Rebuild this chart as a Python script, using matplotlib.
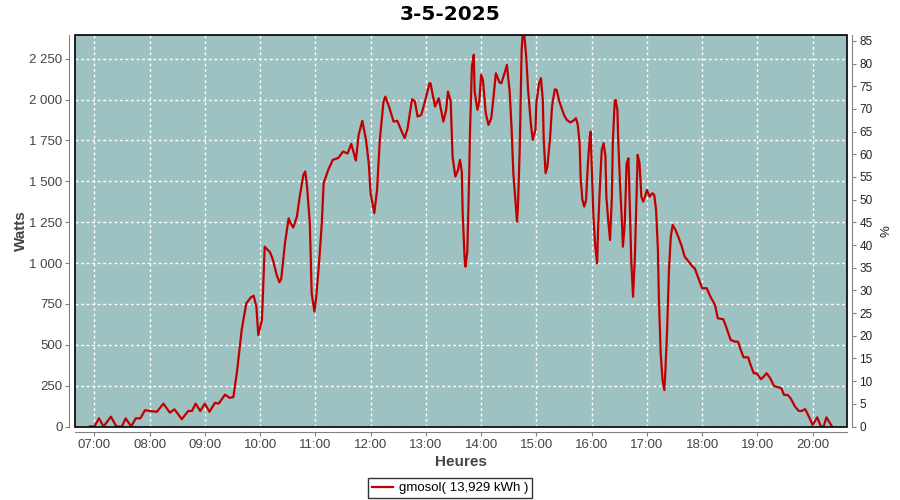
import matplotlib
matplotlib.use("Agg")
import matplotlib.pyplot as plt
import matplotlib.dates as mdates
from matplotlib.patches import Rectangle
from matplotlib.ticker import FuncFormatter, MultipleLocator
import pandas as pd

plt.rcParams["font.family"] = ["Liberation Sans", "DejaVu Sans"]

# data (time of day, watts)
day = "2025-05-03"
heures = ["06:55", "07:00", "07:05", "07:10", "07:18", "07:24", "07:30", "07:34", "07:40", "07:45",
          "07:50", "07:55", "08:00", "08:08", "08:15", "08:22", "08:27", "08:35", "08:42", "08:46",
          "08:50", "08:55", "09:00", "09:05", "09:11", "09:15", "09:22", "09:27", "09:31", "09:35",
          "09:40", "09:45", "09:50", "09:53", "09:56", "09:58", "10:02", "10:05", "10:11", "10:14",
          "10:18", "10:21", "10:23", "10:27", "10:31", "10:33", "10:36", "10:40", "10:43", "10:47",
          "10:49", "10:51", "10:54", "10:56", "10:59", "11:01", "11:04", "11:07", "11:09", "11:14",
          "11:19", "11:25", "11:30", "11:35", "11:39", "11:44", "11:47", "11:51", "11:55", "11:58",
          "12:00", "12:04", "12:07", "12:10", "12:14", "12:16", "12:20", "12:25", "12:29", "12:33",
          "12:37", "12:40", "12:45", "12:48", "12:51", "12:55", "12:59", "13:04", "13:05", "13:10",
          "13:14", "13:19", "13:22", "13:24", "13:27", "13:29", "13:32", "13:35", "13:37", "13:39",
          "13:40", "13:42", "13:43", "13:45", "13:47", "13:48", "13:50", "13:52", "13:53", "13:56",
          "13:58", "14:00", "14:02", "14:05", "14:08", "14:11", "14:13", "14:16", "14:20", "14:22",
          "14:26", "14:28", "14:31", "14:33", "14:35", "14:37", "14:39", "14:40", "14:42", "14:44",
          "14:45", "14:47", "14:49", "14:51", "14:54", "14:56", "14:59", "15:00", "15:03", "15:05",
          "15:07", "15:08", "15:10", "15:12", "15:15", "15:17", "15:20", "15:22", "15:25", "15:30",
          "15:33", "15:37", "15:40", "15:43", "15:45", "15:47", "15:48", "15:50", "15:52", "15:54",
          "15:56", "15:58", "15:59", "16:00", "16:02", "16:04", "16:06", "16:07", "16:09", "16:11",
          "16:13", "16:15", "16:16", "16:18", "16:20", "16:22", "16:23", "16:25", "16:26", "16:28",
          "16:29", "16:31", "16:33", "16:34", "16:36", "16:38", "16:40", "16:42", "16:43", "16:45",
          "16:47", "16:49", "16:50", "16:52", "16:54", "16:56", "16:58", "17:00", "17:03", "17:06",
          "17:08", "17:10", "17:12", "17:13", "17:15", "17:17", "17:19", "17:20", "17:22", "17:24",
          "17:26", "17:28", "17:31", "17:34", "17:38", "17:41", "17:45", "17:49", "17:52", "17:56",
          "18:00", "18:05", "18:09", "18:14", "18:17", "18:23", "18:26", "18:31", "18:36", "18:39",
          "18:42", "18:45", "18:50", "18:52", "18:56", "18:59", "19:04", "19:07", "19:10", "19:14",
          "19:18", "19:23", "19:26", "19:29", "19:33", "19:36", "19:41", "19:45", "19:48", "19:52",
          "19:56", "20:00", "20:05", "20:09", "20:12", "20:15", "20:21"]
watts = [0, 0, 50, 0, 60, 0, 0, 50, 0, 50,
         50, 100, 95, 90, 140, 85, 105, 45, 95, 95,
         140, 95, 140, 90, 145, 140, 195, 175, 180, 340,
         590, 754, 790, 800, 733, 560, 652, 1100, 1064, 1019,
         927, 882, 905, 1121, 1274, 1244, 1217, 1284, 1406, 1539,
         1560, 1468, 1244, 815, 703, 794, 999, 1244, 1488, 1570,
         1631, 1643, 1682, 1670, 1729, 1627, 1784, 1870, 1753, 1611,
         1427, 1305, 1447, 1753, 1988, 2018, 1957, 1865, 1870, 1815,
         1764, 1820, 2002, 1990, 1896, 1906, 1988, 2100, 2100, 1957,
         2008, 1865, 1935, 2049, 1988, 1651, 1529, 1570, 1631, 1560,
         1305, 1039, 978, 1070, 1529, 1815, 2202, 2274, 2049, 1937,
         1988, 2151, 2120, 1917, 1845, 1886, 1988, 2161, 2104, 2100,
         2171, 2212, 2049, 1835, 1550, 1400, 1253, 1345, 1712, 2304,
         2386, 2386, 2263, 2059, 1855, 1753, 1815, 1978, 2100, 2131,
         1998, 1753, 1550, 1590, 1774, 1957, 2063, 2059, 1988, 1906,
         1876, 1860, 1870, 1886, 1845, 1733, 1529, 1386, 1345, 1386,
         1611, 1774, 1804, 1611, 1284, 1100, 999, 1203, 1468, 1692,
         1733, 1652, 1406, 1264, 1141, 1406, 1733, 1978, 1998, 1937,
         1733, 1468, 1244, 1100, 1244, 1611, 1641, 1244, 1019, 794,
         1040, 1447, 1662, 1611, 1406, 1376, 1406, 1447, 1406, 1427,
         1417, 1325, 1080, 794, 448, 285, 223, 326, 590, 958,
         1162, 1233, 1203, 1162, 1100, 1039, 1012, 982, 967, 907,
         846, 846, 794, 744, 662, 656, 611, 529, 519, 519,
         468, 423, 423, 387, 326, 326, 289, 306, 326, 295,
         248, 239, 234, 193, 193, 173, 121, 95, 95, 106,
         60, 10, 56, 0, 0, 56, 0]

x_debut, x_fin = "06:39", "20:37"
watts_max, pct_max = 2395, 86.3
titre = "3-5-2025"
legende = "gmosol( 13,929 kWh )"

fond = "#9ec2c1"
rouge = "#c00000"
gris = "#808080"

t = pd.to_datetime([day + " " + h for h in heures])

fig = plt.figure(figsize=(9, 5), dpi=100)
ax = fig.add_axes([75 / 900, 73.5 / 500, 771.7 / 900, 391.5 / 500])
ax.set_facecolor(fond)
line, = ax.plot(t, watts, color=rouge, lw=1.6, zorder=3)

ax.set_xlim(pd.Timestamp(day + " " + x_debut), pd.Timestamp(day + " " + x_fin))
ax.set_ylim(0, watts_max)
ax.xaxis.set_major_locator(mdates.HourLocator())
ax.xaxis.set_major_formatter(mdates.DateFormatter("%H:%M"))
ax.yaxis.set_major_locator(MultipleLocator(250))
ax.yaxis.set_major_formatter(FuncFormatter(lambda v, p: f"{int(v):,}".replace(",", " ")))
ax.grid(True, color="white", ls=(0, (2, 2)), lw=1)

for s in ["left", "bottom"]:
    ax.spines[s].set_position(("outward", 4))
    ax.spines[s].set_color(gris)
ax.spines["top"].set_visible(False)
ax.spines["right"].set_visible(False)
ax.tick_params(colors=gris, labelcolor="#444444", labelsize=9.5, length=3, pad=2)
ax.add_patch(Rectangle((0, 0), 1, 1, transform=ax.transAxes, fill=False,
                       edgecolor="black", lw=1.2, clip_on=False, zorder=4))

ax2 = ax.twinx()
ax2.set_ylim(0, pct_max)
ax2.yaxis.set_major_locator(MultipleLocator(5))
for s in ["left", "bottom", "top"]:
    ax2.spines[s].set_visible(False)
ax2.spines["right"].set_position(("outward", 4))
ax2.spines["right"].set_color(gris)
ax2.tick_params(colors=gris, labelcolor="#222222", labelsize=8.5, length=3, pad=2)

fig.text(0.5, 1 - 15 / 500, titre, ha="center", va="center", fontsize=14.5,
         fontweight="bold", family="DejaVu Sans")
ax.set_ylabel("Watts", fontsize=11, fontweight="bold", color="#444444", labelpad=1)
ax.set_xlabel("Heures", fontsize=11, fontweight="bold", color="#444444", labelpad=3)
ax2.set_ylabel("%", fontsize=9.5, color="#222222", labelpad=6)

leg = fig.legend([line], [legende], loc="center", bbox_to_anchor=(0.5, 1 - 488 / 500),
                 fontsize=9.5, frameon=True, fancybox=False, handlelength=1.6,
                 borderpad=0.3, handletextpad=0.4, borderaxespad=0)
leg.get_frame().set_edgecolor("black")
leg.get_frame().set_linewidth(1)

fig.savefig("out.png", dpi=100)
